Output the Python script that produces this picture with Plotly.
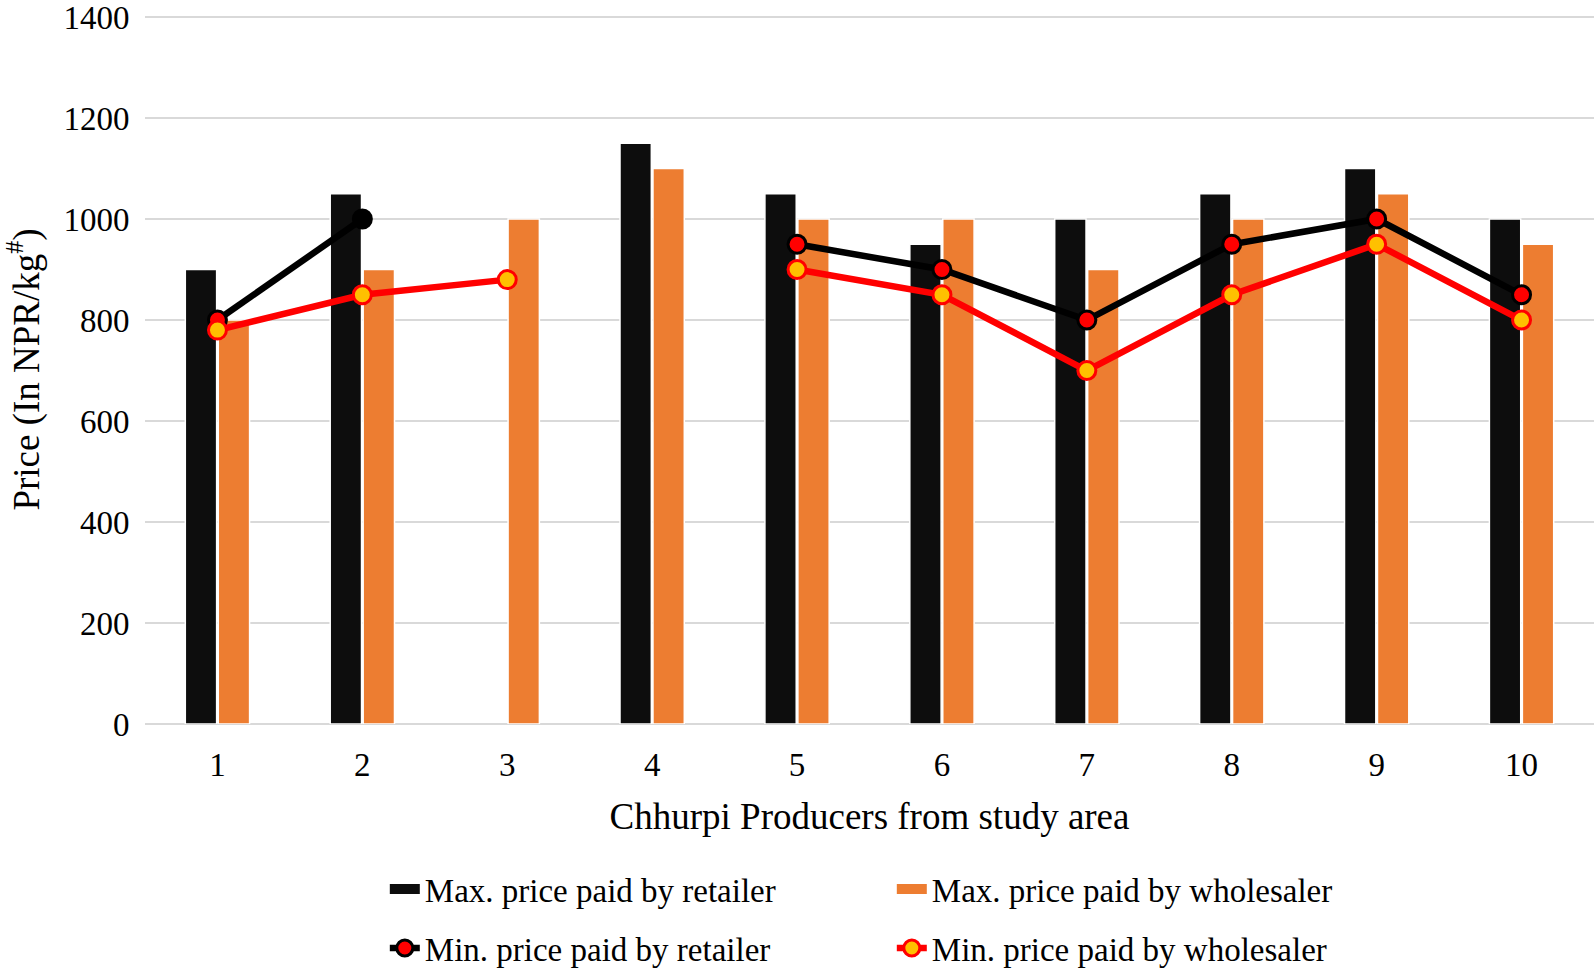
import plotly.graph_objects as go

producers = ["1", "2", "3", "4", "5", "6", "7", "8", "9", "10"]
max_retailer = [900, 1050, None, 1150, 1050, 950, 1000, 1050, 1100, 1000]
max_wholesaler = [800, 900, 1000, 1100, 1000, 1000, 900, 1000, 1050, 950]
min_retailer = [800, 1000, None, None, 950, 900, 800, 950, 1000, 850]
min_wholesaler = [780, 850, 880, None, 900, 850, 700, 850, 950, 800]
y_ticks = [0, 200, 400, 600, 800, 1000, 1200, 1400]

FONT = "Liberation Serif"
BLACK_BAR = "#0d0d0d"
ORANGE = "#ED7D31"

fig = go.Figure()
fig.add_trace(go.Bar(
    x=producers, y=max_retailer, name="Max. price paid by retailer",
    marker=dict(color=BLACK_BAR, line=dict(color="white", width=1.5)),
    showlegend=False, legendgroup="mr",
))
fig.add_trace(go.Bar(
    x=producers, y=max_wholesaler, name="Max. price paid by wholesaler",
    marker=dict(color=ORANGE, line=dict(color="white", width=1.5)),
    showlegend=False, legendgroup="mw",
))
# legend keys for the bars (wide rectangles like the original)
fig.add_trace(go.Scatter(
    x=[None], y=[None], mode="lines", name="Max. price paid by retailer",
    line=dict(color=BLACK_BAR, width=10), legendgroup="mr", legend="legend",
))
fig.add_trace(go.Scatter(
    x=[None], y=[None], mode="lines", name="Max. price paid by wholesaler",
    line=dict(color=ORANGE, width=10), legendgroup="mw", legend="legend",
))
ret_marker_colors = ["#FF0000" if i != 1 else "#000000" for i in range(len(producers))]
fig.add_trace(go.Scatter(
    x=producers, y=min_retailer, name="Min. price paid by retailer",
    mode="lines+markers", connectgaps=False, legend="legend2",
    line=dict(color="#000000", width=6.5),
    marker=dict(size=18, color=ret_marker_colors, line=dict(color="#000000", width=3)),
))
fig.add_trace(go.Scatter(
    x=producers, y=min_wholesaler, name="Min. price paid by wholesaler",
    mode="lines+markers", connectgaps=False, legend="legend2",
    line=dict(color="#FF0000", width=6.5),
    marker=dict(size=18, color="#FFC000", line=dict(color="#FF0000", width=3)),
))

leg_common = dict(
    orientation="h", xref="paper", yref="paper", x=0.1655, xanchor="left", yanchor="middle",
    entrywidth=462, font=dict(family=FONT, size=33, color="black"), traceorder="normal",
    bgcolor="rgba(0,0,0,0)",
)

fig.update_layout(
    width=1594, height=969,
    margin=dict(l=145, r=0, t=15, b=245, autoexpand=False),
    paper_bgcolor="white", plot_bgcolor="white",
    font=dict(family=FONT, size=33, color="black"),
    barmode="group", bargap=0.545, bargroupgap=0.05,
    showlegend=True,
    legend=dict(leg_common, y=-0.2327),
    legend2=dict(leg_common, y=-0.316),
)
fig.update_xaxes(
    type="category", range=[-0.5, len(producers) - 0.5],
    showgrid=False, showline=False, automargin=False,
    ticks="outside", ticklen=11, tickcolor="rgba(0,0,0,0)",
    tickfont=dict(family=FONT, size=33),
    title=dict(text="Chhurpi Producers from study area", font=dict(family=FONT, size=37), standoff=21),
)
fig.update_yaxes(
    range=[0, 1404], tickvals=y_ticks, showgrid=True, gridcolor="#d9d9d9", gridwidth=2,
    zeroline=True, zerolinecolor="#d9d9d9", zerolinewidth=2, showline=False, automargin=False,
    ticks="outside", ticklen=8, tickcolor="rgba(0,0,0,0)", ticklabeloverflow="allow",
    tickfont=dict(family=FONT, size=33),
    title=dict(text="Price (In NPR/kg<sup>#</sup>)", font=dict(family=FONT, size=37), standoff=40),
)

fig.write_html("out.html", config={"displayModeBar": False},
               post_script="document.body.style.margin='0';")
